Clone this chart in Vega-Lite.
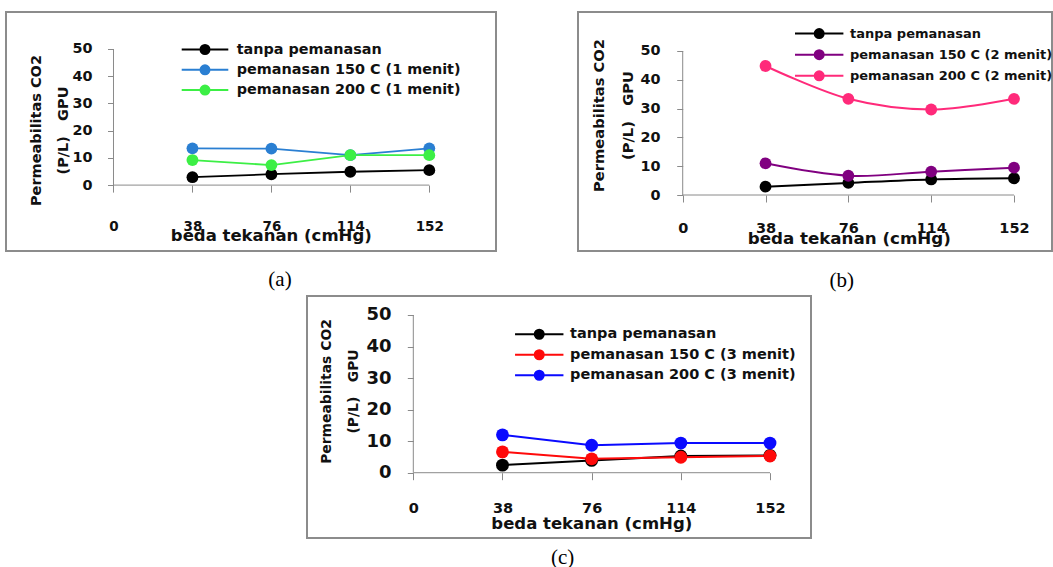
{
  "$schema": "https://vega.github.io/schema/vega-lite/v6.json",
  "background": "white",
  "padding": {"left": 5, "top": 11, "right": 0, "bottom": 0},
  "datasets": {
    "a": [
      {"series": "tanpa pemanasan", "x": 38, "y": 2.9},
      {"series": "tanpa pemanasan", "x": 76, "y": 4.0},
      {"series": "tanpa pemanasan", "x": 114, "y": 4.9},
      {"series": "tanpa pemanasan", "x": 152, "y": 5.5},
      {"series": "pemanasan 150 C (1 menit)", "x": 38, "y": 13.5},
      {"series": "pemanasan 150 C (1 menit)", "x": 76, "y": 13.4},
      {"series": "pemanasan 150 C (1 menit)", "x": 114, "y": 11.0},
      {"series": "pemanasan 150 C (1 menit)", "x": 152, "y": 13.5},
      {"series": "pemanasan 200 C (1 menit)", "x": 38, "y": 9.2},
      {"series": "pemanasan 200 C (1 menit)", "x": 76, "y": 7.35},
      {"series": "pemanasan 200 C (1 menit)", "x": 114, "y": 11.0},
      {"series": "pemanasan 200 C (1 menit)", "x": 152, "y": 11.0}
    ],
    "b": [
      {"series": "tanpa pemanasan", "x": 38, "y": 2.9},
      {"series": "tanpa pemanasan", "x": 76, "y": 4.2},
      {"series": "tanpa pemanasan", "x": 114, "y": 5.4},
      {"series": "tanpa pemanasan", "x": 152, "y": 5.8},
      {"series": "pemanasan 150 C (2 menit)", "x": 38, "y": 11.0},
      {"series": "pemanasan 150 C (2 menit)", "x": 76, "y": 6.7},
      {"series": "pemanasan 150 C (2 menit)", "x": 114, "y": 8.1},
      {"series": "pemanasan 150 C (2 menit)", "x": 152, "y": 9.5},
      {"series": "pemanasan 200 C (2 menit)", "x": 38, "y": 44.8},
      {"series": "pemanasan 200 C (2 menit)", "x": 76, "y": 33.4},
      {"series": "pemanasan 200 C (2 menit)", "x": 114, "y": 29.7},
      {"series": "pemanasan 200 C (2 menit)", "x": 152, "y": 33.4}
    ],
    "c": [
      {"series": "tanpa pemanasan", "x": 38, "y": 2.4},
      {"series": "tanpa pemanasan", "x": 76, "y": 3.9},
      {"series": "tanpa pemanasan", "x": 114, "y": 5.3},
      {"series": "tanpa pemanasan", "x": 152, "y": 5.5},
      {"series": "pemanasan 150 C (3 menit)", "x": 38, "y": 6.6},
      {"series": "pemanasan 150 C (3 menit)", "x": 76, "y": 4.4},
      {"series": "pemanasan 150 C (3 menit)", "x": 114, "y": 4.9},
      {"series": "pemanasan 150 C (3 menit)", "x": 152, "y": 5.3},
      {"series": "pemanasan 200 C (3 menit)", "x": 38, "y": 12.0},
      {"series": "pemanasan 200 C (3 menit)", "x": 76, "y": 8.7},
      {"series": "pemanasan 200 C (3 menit)", "x": 114, "y": 9.4},
      {"series": "pemanasan 200 C (3 menit)", "x": 152, "y": 9.4}
    ]
  },
  "spacing": 3,
  "resolve": {"scale": {"color": "independent", "x": "independent", "y": "independent"}, "legend": {"color": "independent"}, "axis": {"x": "independent", "y": "independent"}},
  "vconcat": [
    {
      "bounds": "flush",
      "spacing": 82,
      "resolve": {"scale": {"color": "independent", "x": "independent", "y": "independent"}, "legend": {"color": "independent"}, "axis": {"x": "independent", "y": "independent"}},
      "hconcat": [
        {
          "width": 490, "height": 239,
          "view": {"stroke": "#8c8c8c", "strokeWidth": 2, "fill": "white"},
          "title": {"text": "(a)", "orient": "bottom", "frame": "group", "anchor": "middle", "dx": 29, "offset": 29, "baseline": "middle", "font": "Liberation Serif", "fontSize": 21, "fontWeight": "normal", "color": "#000"},
          "data": {"name": "a"},
          "layer": [
            {
              "mark": {"type": "line", "strokeWidth": 1.8},
              "encoding": {
                "x": {"field": "x", "type": "quantitative",
                  "scale": {"domain": [-51.74, 184.11], "nice": false, "zero": false},
                  "axis": {"offset": -65.9, "domain": false, "grid": false, "values": [0, 38, 76, 114, 152], "tickSize": 7, "tickColor": "#8a8a8a", "tickWidth": 1,
                    "labelFont": "DejaVu Sans", "labelFontSize": 13.5, "labelFontWeight": "bold", "labelColor": "#111", "labelBaseline": "alphabetic", "labelPadding": 38.5, "labelFlush": false, "labelOverlap": false,
                    "title": "beda tekanan (cmHg)", "titleFont": "DejaVu Sans", "titleFontSize": 16.5, "titleFontWeight": "bold", "titleColor": "#111", "titleX": 264.8, "titleY": 55, "titleAlign": "center", "titleBaseline": "alphabetic", "titleAnchor": null}},
                "y": {"field": "y", "type": "quantitative",
                  "scale": {"domain": [-24.21, 63.59], "nice": false, "zero": false},
                  "axis": {"offset": -107.5, "domain": false, "grid": false, "values": [0, 10, 20, 30, 40, 50], "tickSize": 6, "tickColor": "#8a8a8a", "tickWidth": 1,
                    "labelFont": "DejaVu Sans", "labelFontSize": 14.4, "labelFontWeight": "bold", "labelColor": "#111", "labelPadding": 15.5, "labelFlush": false, "labelOverlap": false,
                    "title": ["Permeabilitas CO2", "(P/L)\u00a0\u00a0\u00a0GPU"], "titleFont": "DejaVu Sans", "titleFontSize": 14.5, "titleFontWeight": "bold", "titleColor": "#111", "titleAngle": -90, "titleX": -76.8, "titleY": 118, "titleAlign": "center", "titleBaseline": "middle", "titleLineHeight": 26.6}},
                "color": {"field": "series", "type": "nominal",
                  "scale": {"domain": ["tanpa pemanasan", "pemanasan 150 C (1 menit)", "pemanasan 200 C (1 menit)"], "range": ["#000000", "#2a7fd2", "#3cef45"]},
                  "legend": {"orient": "none", "legendX": 191.8, "legendY": 30.3, "title": null, "padding": 0, "symbolOffset": 0,
                    "symbolType": "M-4.66,0H4.66M-0.9,0A0.9,0.9,0,1,1,0.9,0A0.9,0.9,0,1,1,-0.9,0Z", "symbolSize": 100, "symbolStrokeWidth": 2,
                    "labelFont": "DejaVu Sans", "labelFontSize": 14.4, "labelFontWeight": "bold", "labelColor": "#111", "labelOffset": 24.5, "labelLimit": 400, "rowPadding": 2.3,
                    "encode": {"symbols": {"update": {"fill": {"scale": "concat_0_concat_0_color", "field": "value"}, "stroke": {"scale": "concat_0_concat_0_color", "field": "value"}, "opacity": {"value": 1}}}}}}
              }
            },
            {
              "mark": {"type": "point", "filled": true, "size": 140, "opacity": 1},
              "encoding": {
                "x": {"field": "x", "type": "quantitative"},
                "y": {"field": "y", "type": "quantitative"},
                "color": {"field": "series", "type": "nominal"}
              }
            },
            {
              "data": {"values": [{}]},
              "mark": {"type": "rule", "color": "#8a8a8a", "strokeWidth": 1},
              "encoding": {"x": {"datum": 0, "type": "quantitative"}, "y": {"datum": 0, "type": "quantitative"}, "y2": {"datum": 50}}
            },
            {
              "data": {"values": [{}]},
              "mark": {"type": "rule", "color": "#8a8a8a", "strokeWidth": 1},
              "encoding": {"x": {"datum": 0, "type": "quantitative"}, "x2": {"datum": 152}, "y": {"datum": 0, "type": "quantitative"}}
            }
          ]
        },
        {
          "width": 474, "height": 239,
          "view": {"stroke": "#8c8c8c", "strokeWidth": 2, "fill": "white"},
          "title": {"text": "(b)", "orient": "bottom", "frame": "group", "anchor": "middle", "dx": 26.7, "offset": 30, "baseline": "middle", "font": "Liberation Serif", "fontSize": 21, "fontWeight": "normal", "color": "#000"},
          "data": {"name": "b"},
          "layer": [
            {
              "mark": {"type": "line", "strokeWidth": 2, "interpolate": "catmull-rom"},
              "encoding": {
                "x": {"field": "x", "type": "quantitative",
                  "scale": {"domain": [-48.04, 169.44], "nice": false, "zero": false},
                  "axis": {"offset": -56, "domain": false, "grid": false, "values": [0, 38, 76, 114, 152], "tickSize": 7, "tickColor": "#8a8a8a", "tickWidth": 1,
                    "labelFont": "DejaVu Sans", "labelFontSize": 14.5, "labelFontWeight": "bold", "labelColor": "#111", "labelBaseline": "alphabetic", "labelPadding": 30.7, "labelFlush": false, "labelOverlap": false,
                    "title": "beda tekanan (cmHg)", "titleFont": "DejaVu Sans", "titleFontSize": 16.7, "titleFontWeight": "bold", "titleColor": "#111", "titleX": 270.8, "titleY": 48.3, "titleAlign": "center", "titleBaseline": "alphabetic", "titleAnchor": null}},
                "y": {"field": "y", "type": "quantitative",
                  "scale": {"domain": [-19.44, 63.54], "nice": false, "zero": false},
                  "axis": {"offset": -104.7, "domain": false, "grid": false, "values": [0, 10, 20, 30, 40, 50], "tickSize": 6, "tickColor": "#8a8a8a", "tickWidth": 1,
                    "labelFont": "DejaVu Sans", "labelFontSize": 14.4, "labelFontWeight": "bold", "labelColor": "#111", "labelPadding": 16.7, "labelFlush": false, "labelOverlap": false,
                    "title": ["Permeabilitas CO2", "(P/L)\u00a0\u00a0\u00a0GPU"], "titleFont": "DejaVu Sans", "titleFontSize": 14.7, "titleFontWeight": "bold", "titleColor": "#111", "titleAngle": -90, "titleX": -83.4, "titleY": 103, "titleAlign": "center", "titleBaseline": "middle", "titleLineHeight": 29}},
                "color": {"field": "series", "type": "nominal",
                  "scale": {"domain": ["tanpa pemanasan", "pemanasan 150 C (2 menit)", "pemanasan 200 C (2 menit)"], "range": ["#000000", "#800080", "#ff2a7a"]},
                  "legend": {"orient": "none", "legendX": 234.7, "legendY": 15.1, "title": null, "padding": 0, "symbolOffset": 0,
                    "symbolType": "M-4.84,0H4.84M-0.9,0A0.9,0.9,0,1,1,0.9,0A0.9,0.9,0,1,1,-0.9,0Z", "symbolSize": 100, "symbolStrokeWidth": 2,
                    "labelFont": "DejaVu Sans", "labelFontSize": 13, "labelFontWeight": "bold", "labelColor": "#111", "labelOffset": 24.3, "labelLimit": 400, "rowPadding": 4.1,
                    "encode": {"symbols": {"update": {"fill": {"scale": "concat_0_concat_1_color", "field": "value"}, "stroke": {"scale": "concat_0_concat_1_color", "field": "value"}, "opacity": {"value": 1}}}}}}
              }
            },
            {
              "mark": {"type": "point", "filled": true, "size": 140, "opacity": 1},
              "encoding": {
                "x": {"field": "x", "type": "quantitative"},
                "y": {"field": "y", "type": "quantitative"},
                "color": {"field": "series", "type": "nominal"}
              }
            },
            {
              "data": {"values": [{}]},
              "mark": {"type": "rule", "color": "#8a8a8a", "strokeWidth": 1},
              "encoding": {"x": {"datum": 0, "type": "quantitative"}, "y": {"datum": 0, "type": "quantitative"}, "y2": {"datum": 50}}
            },
            {
              "data": {"values": [{}]},
              "mark": {"type": "rule", "color": "#8a8a8a", "strokeWidth": 1},
              "encoding": {"x": {"datum": 0, "type": "quantitative"}, "x2": {"datum": 152}, "y": {"datum": 0, "type": "quantitative"}}
            }
          ]
        }
      ]
    },
    {
      "bounds": "flush",
      "spacing": 82,
      "resolve": {"scale": {"color": "independent", "x": "independent", "y": "independent"}, "legend": {"color": "independent"}, "axis": {"x": "independent", "y": "independent"}},
      "hconcat": [
        {
          "width": 219, "height": 10,
          "view": {"stroke": null},
          "data": {"values": []},
          "mark": "point"
        },
        {
          "width": 504, "height": 242,
          "view": {"stroke": "#8c8c8c", "strokeWidth": 2, "fill": "white"},
          "title": {"text": "(c)", "orient": "bottom", "frame": "group", "anchor": "middle", "dx": 3.7, "offset": 20, "baseline": "middle", "font": "Liberation Serif", "fontSize": 21, "fontWeight": "normal", "color": "#000"},
          "data": {"name": "c"},
          "layer": [
            {
              "mark": {"type": "line", "strokeWidth": 2},
              "encoding": {
                "x": {"field": "x", "type": "quantitative",
                  "scale": {"domain": [-45.3, 169.47], "nice": false, "zero": false},
                  "axis": {"offset": -65.3, "domain": false, "grid": false, "values": [0, 38, 76, 114, 152], "tickSize": 7, "tickColor": "#8a8a8a", "tickWidth": 1,
                    "labelFont": "DejaVu Sans", "labelFontSize": 14.5, "labelFontWeight": "bold", "labelColor": "#111", "labelBaseline": "alphabetic", "labelPadding": 33, "labelFlush": false, "labelOverlap": false,
                    "title": "beda tekanan (cmHg)", "titleFont": "DejaVu Sans", "titleFontSize": 16.5, "titleFontWeight": "bold", "titleColor": "#111", "titleX": 284.3, "titleY": 56, "titleAlign": "center", "titleBaseline": "alphabetic", "titleAnchor": null}},
                "y": {"field": "y", "type": "quantitative",
                  "scale": {"domain": [-20.7, 56.02], "nice": false, "zero": false},
                  "axis": {"offset": -106.3, "domain": false, "grid": false, "values": [0, 10, 20, 30, 40, 50], "tickSize": 6, "tickColor": "#8a8a8a", "tickWidth": 1,
                    "labelFont": "DejaVu Sans", "labelFontSize": 18, "labelFontWeight": "bold", "labelColor": "#111", "labelPadding": 16.3, "labelFlush": false, "labelOverlap": false,
                    "title": ["Permeabilitas CO2", "(P/L)\u00a0\u00a0\u00a0GPU"], "titleFont": "DejaVu Sans", "titleFontSize": 13.9, "titleFontWeight": "bold", "titleColor": "#111", "titleAngle": -90, "titleX": -86.6, "titleY": 95, "titleAlign": "center", "titleBaseline": "middle", "titleLineHeight": 26.6}},
                "color": {"field": "series", "type": "nominal",
                  "scale": {"domain": ["tanpa pemanasan", "pemanasan 150 C (3 menit)", "pemanasan 200 C (3 menit)"], "range": ["#000000", "#ff0a0a", "#0a0aff"]},
                  "legend": {"orient": "none", "legendX": 225, "legendY": 31, "title": null, "padding": 0, "symbolOffset": 0,
                    "symbolType": "M-4.84,0H4.84M-0.9,0A0.9,0.9,0,1,1,0.9,0A0.9,0.9,0,1,1,-0.9,0Z", "symbolSize": 100, "symbolStrokeWidth": 2,
                    "labelFont": "DejaVu Sans", "labelFontSize": 14.5, "labelFontWeight": "bold", "labelColor": "#111", "labelOffset": 23.5, "labelLimit": 400, "rowPadding": 2.5,
                    "encode": {"symbols": {"update": {"fill": {"scale": "concat_1_concat_1_color", "field": "value"}, "stroke": {"scale": "concat_1_concat_1_color", "field": "value"}, "opacity": {"value": 1}}}}}}
              }
            },
            {
              "mark": {"type": "point", "filled": true, "size": 165, "opacity": 1},
              "encoding": {
                "x": {"field": "x", "type": "quantitative"},
                "y": {"field": "y", "type": "quantitative"},
                "color": {"field": "series", "type": "nominal"}
              }
            },
            {
              "data": {"values": [{}]},
              "mark": {"type": "rule", "color": "#8a8a8a", "strokeWidth": 1},
              "encoding": {"x": {"datum": 0, "type": "quantitative"}, "y": {"datum": 0, "type": "quantitative"}, "y2": {"datum": 50}}
            },
            {
              "data": {"values": [{}]},
              "mark": {"type": "rule", "color": "#8a8a8a", "strokeWidth": 1},
              "encoding": {"x": {"datum": 0, "type": "quantitative"}, "x2": {"datum": 152}, "y": {"datum": 0, "type": "quantitative"}}
            }
          ]
        }
      ]
    }
  ]
}
